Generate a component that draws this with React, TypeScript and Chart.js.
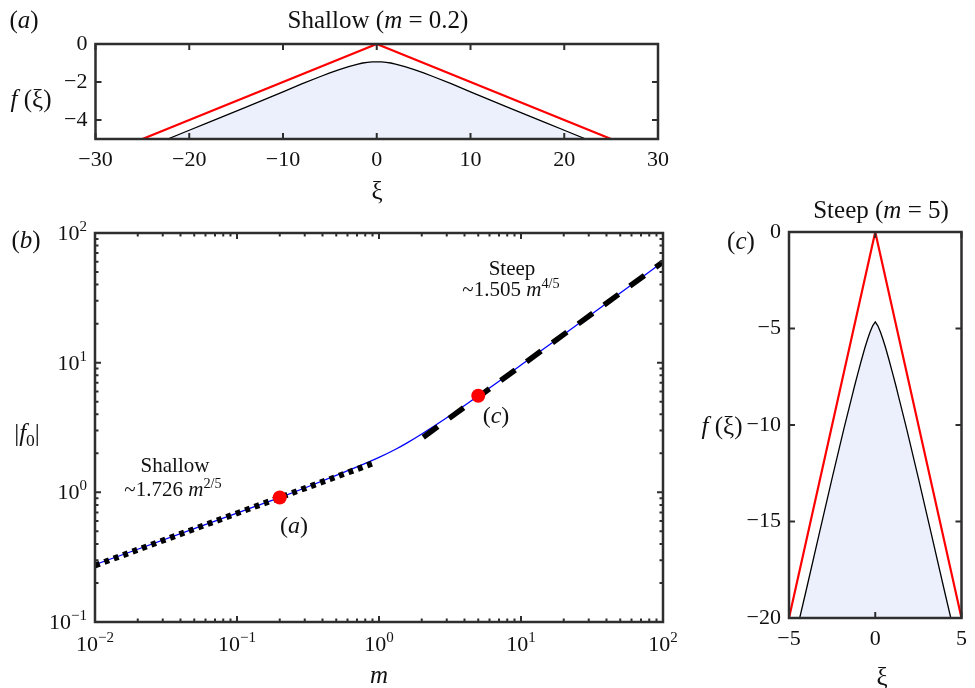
import React, { useEffect, useRef } from 'react';
import { Chart, registerables } from 'chart.js';
Chart.register(...registerables);

const FONT = '"Liberation Serif", "Times New Roman", serif';
const FRAME = '#2e2e2e';
const FILL = '#ebf0fc';

// ---------- Panel (a): shallow, m = 0.2 ----------
const aXi = [-22.3, -20, -18, -14, -10, -8, -6, -5, -4, -3, -2, -1.5, -1, -0.5, 0, 0.5, 1, 1.5, 2, 3, 4, 5, 6, 8, 10, 14, 18, 20, 22.3];
const aBody = [-5.0, -4.54, -4.14, -3.34, -2.52, -2.1, -1.71, -1.52, -1.35, -1.19, -1.06, -1.0, -0.97, -0.945, -0.94, -0.945, -0.97, -1.0, -1.06, -1.19, -1.35, -1.52, -1.71, -2.1, -2.52, -3.34, -4.14, -4.54, -5.0];
const aWedgeXi = [-25, 0, 25];
const aWedgeF = [-5, 0, -5];
const aXTicks = [-30, -20, -10, 0, 10, 20, 30];
const aYTicks = [-4, -2, 0];

// ---------- Panel (b): |f0| vs m ----------
const bM = [0.01, 0.02, 0.05, 0.1, 0.2, 0.3, 0.5, 0.7, 1, 1.3, 1.6, 2, 3, 5, 7, 10, 20, 50, 100];
const bF0 = [0.277, 0.364, 0.524, 0.692, 0.912, 1.08, 1.35, 1.57, 1.86, 2.14, 2.43, 2.82, 3.76, 5.55, 7.2, 9.6, 16.5, 34.4, 60];
const shallowM = [0.01, 0.9];
const shallowF = [0.273, 1.67];
const steepM = [2.05, 100];
const steepF = [2.66, 59.9];
const dotM = [0.2, 5];
const dotF = [0.912, 5.55];
const bXMajor = [0.01, 0.1, 1, 10, 100];
const bXExp = ['\u22122', '\u22121', '0', '1', '2'];
const bYMajor = [0.1, 1, 10, 100];
const bYExp = ['\u22121', '0', '1', '2'];
const minorMult = [2, 3, 4, 5, 6, 7, 8, 9];

// ---------- Panel (c): steep, m = 5 ----------
const cXi = [-4.38, -4, -3.2, -2.5, -1.82, -1.4, -1.2, -1, -0.8, -0.6, -0.45, -0.3, -0.15, 0, 0.15, 0.3, 0.45, 0.6, 0.8, 1, 1.2, 1.4, 1.82, 2.5, 3.2, 4, 4.38];
const cBody = [-20, -18.55, -15.45, -12.75, -10.2, -8.7, -7.98, -7.3, -6.63, -6.0, -5.57, -5.18, -4.86, -4.66, -4.86, -5.18, -5.57, -6.0, -6.63, -7.3, -7.98, -8.7, -10.2, -12.75, -15.45, -18.55, -20];
const cWedgeXi = [-5, 0, 5];
const cWedgeF = [-20, 0, -20];
const cXTicks = [-5, 0, 5];
const cYTicks = [-20, -15, -10, -5, 0];

const pts = (xs: number[], ys: number[]) => xs.map((x, i) => ({ x, y: ys[i] }));
const fmt = (v: number) => (v < 0 ? '\u2212' + Math.abs(v) : String(v));
const minorsOf = (majors: number[]) => {
  const out: number[] = [];
  for (let i = 0; i < majors.length - 1; i++) minorMult.forEach((k) => out.push(majors[i] * k));
  return out;
};

const boxPlugin = {
  id: 'boxTicks',
  afterDraw(chart: any, _a: any, opts: any) {
    const { ctx, chartArea: a, scales } = chart;
    const xs = scales.x, ys = scales.y;
    ctx.save();
    ctx.strokeStyle = FRAME;
    ctx.lineWidth = 2;
    const drawX = (vals: number[], len: number) => {
      vals.forEach((v) => {
        const px = xs.getPixelForValue(v);
        ctx.beginPath();
        ctx.moveTo(px, a.bottom); ctx.lineTo(px, a.bottom - len);
        ctx.moveTo(px, a.top); ctx.lineTo(px, a.top + len);
        ctx.stroke();
      });
    };
    const drawY = (vals: number[], len: number) => {
      vals.forEach((v) => {
        const py = ys.getPixelForValue(v);
        ctx.beginPath();
        ctx.moveTo(a.left, py); ctx.lineTo(a.left + len, py);
        ctx.moveTo(a.right, py); ctx.lineTo(a.right - len, py);
        ctx.stroke();
      });
    };
    drawX(opts.xMajor || [], 6);
    drawY(opts.yMajor || [], 6);
    drawX(opts.xMinor || [], 3.5);
    drawY(opts.yMinor || [], 3.5);
    ctx.lineWidth = 2.5;
    ctx.strokeRect(a.left, a.top, a.right - a.left, a.bottom - a.top);
    if (opts.logLabels) {
      ctx.fillStyle = '#111';
      ctx.textBaseline = 'alphabetic';
      ctx.textAlign = 'left';
      const pow = (exp: string, x: number, y: number, right: boolean) => {
        ctx.font = `22px ${FONT}`;
        const wb = ctx.measureText('10').width;
        ctx.font = `15px ${FONT}`;
        const we = ctx.measureText(exp).width;
        const x0 = right ? x - wb - we : x - (wb + we) / 2;
        ctx.font = `22px ${FONT}`;
        ctx.fillText('10', x0, y);
        ctx.font = `15px ${FONT}`;
        ctx.fillText(exp, x0 + wb, y - 9);
      };
      bXMajor.forEach((v, i) => pow(bXExp[i], xs.getPixelForValue(v), a.bottom + 29, false));
      bYMajor.forEach((v, i) => pow(bYExp[i], a.left - 8, ys.getPixelForValue(v) + 7, true));
    }
    ctx.restore();
  },
};

const tickFont = { family: FONT, size: 22 };

function linearCfg(p: {
  datasets: any[]; xMin: number; xMax: number; yMin: number; yMax: number;
  xTicks: number[]; yTicks: number[]; yAxisW: number; xAxisH: number; padTop: number; padRight: number;
}) {
  return {
    type: 'scatter',
    data: { datasets: p.datasets },
    plugins: [boxPlugin],
    options: {
      animation: false,
      responsive: false,
      devicePixelRatio: 1,
      layout: { padding: { top: p.padTop, right: p.padRight, left: 0, bottom: 0 }, autoPadding: false },
      plugins: {
        legend: { display: false },
        tooltip: { enabled: false },
        boxTicks: { xMajor: p.xTicks, yMajor: p.yTicks },
      },
      scales: {
        x: {
          type: 'linear', min: p.xMin, max: p.xMax,
          grid: { display: false, drawTicks: false }, border: { display: false },
          afterBuildTicks: (s: any) => { s.ticks = p.xTicks.map((v) => ({ value: v })); },
          afterFit: (s: any) => { s.height = p.xAxisH; },
          ticks: { font: tickFont, color: '#111', padding: 8, maxRotation: 0, autoSkip: false, callback: (v: any) => fmt(Number(v)) },
        },
        y: {
          type: 'linear', min: p.yMin, max: p.yMax,
          grid: { display: false, drawTicks: false }, border: { display: false },
          afterBuildTicks: (s: any) => { s.ticks = p.yTicks.map((v) => ({ value: v })); },
          afterFit: (s: any) => { s.width = p.yAxisW; },
          ticks: { font: tickFont, color: '#111', padding: 8, autoSkip: false, callback: (v: any) => fmt(Number(v)) },
        },
      },
    },
  } as any;
}

function cfgA() {
  return linearCfg({
    datasets: [
      { data: pts(aWedgeXi, aWedgeF), showLine: true, borderColor: '#ff0000', borderWidth: 2.2, pointRadius: 0 },
      { data: pts(aXi, aBody), showLine: true, borderColor: '#000', borderWidth: 1.3, pointRadius: 0, tension: 0, fill: { value: -5 }, backgroundColor: FILL },
    ],
    xMin: -30, xMax: 30, yMin: -5, yMax: 0, xTicks: aXTicks, yTicks: aYTicks,
    yAxisW: 95.5, xAxisH: 41, padTop: 44, padRight: 32,
  });
}

function cfgC() {
  return linearCfg({
    datasets: [
      { data: pts(cWedgeXi, cWedgeF), showLine: true, borderColor: '#ff0000', borderWidth: 2.2, pointRadius: 0 },
      { data: pts(cXi, cBody), showLine: true, borderColor: '#000', borderWidth: 1.3, pointRadius: 0, tension: 0, fill: { value: -20 }, backgroundColor: FILL },
    ],
    xMin: -5, xMax: 5, yMin: -20, yMax: 0, xTicks: cXTicks, yTicks: cYTicks,
    yAxisW: 89, xAxisH: 70, padTop: 42, padRight: 3,
  });
}

function cfgB() {
  return {
    type: 'scatter',
    data: {
      datasets: [
        { data: pts(dotM, dotF), showLine: false, pointRadius: 7, pointBackgroundColor: '#ff0000', pointBorderWidth: 0, borderColor: '#ff0000' },
        { data: pts(steepM, steepF), showLine: true, borderColor: '#000', borderWidth: 5.5, borderDash: [18, 14], borderCapStyle: 'butt', pointRadius: 0 },
        { data: pts(shallowM, shallowF), showLine: true, borderColor: '#000', borderWidth: 6, borderDash: [5, 5], borderCapStyle: 'butt', pointRadius: 0 },
        { data: pts(bM, bF0), showLine: true, borderColor: '#0000ff', borderWidth: 1.3, pointRadius: 0, cubicInterpolationMode: 'monotone' },
      ],
    },
    plugins: [boxPlugin],
    options: {
      animation: false,
      responsive: false,
      devicePixelRatio: 1,
      layout: { padding: { top: 43, right: 27, left: 0, bottom: 0 }, autoPadding: false },
      plugins: {
        legend: { display: false },
        tooltip: { enabled: false },
        boxTicks: { xMajor: bXMajor, yMajor: bYMajor, xMinor: minorsOf(bXMajor), yMinor: minorsOf(bYMajor), logLabels: true },
      },
      scales: {
        x: {
          type: 'logarithmic', min: 0.01, max: 100,
          grid: { display: false, drawTicks: false }, border: { display: false },
          ticks: { display: false },
          afterFit: (s: any) => { s.height = 66; },
        },
        y: {
          type: 'logarithmic', min: 0.1, max: 100,
          grid: { display: false, drawTicks: false }, border: { display: false },
          ticks: { display: false },
          afterFit: (s: any) => { s.width = 95; },
        },
      },
    },
  } as any;
}

const T = ({ x, y, size = 22, children }: { x: number; y: number; size?: number; children: any }) => (
  <span style={{ position: 'absolute', left: x, top: y, transform: 'translate(-50%, -50%)', fontSize: size, lineHeight: 1, whiteSpace: 'nowrap' }}>{children}</span>
);
const Sup = ({ children }: { children: any }) => (
  <span style={{ fontSize: '0.68em', position: 'relative', top: '-0.55em' }}>{children}</span>
);
const Sub = ({ children }: { children: any }) => (
  <span style={{ fontSize: '0.7em', position: 'relative', top: '0.3em' }}>{children}</span>
);

export default function App() {
  const aRef = useRef<HTMLCanvasElement>(null);
  const bRef = useRef<HTMLCanvasElement>(null);
  const cRef = useRef<HTMLCanvasElement>(null);
  useEffect(() => {
    const charts = [
      new Chart(aRef.current as HTMLCanvasElement, cfgA()),
      new Chart(bRef.current as HTMLCanvasElement, cfgB()),
      new Chart(cRef.current as HTMLCanvasElement, cfgC()),
    ];
    return () => charts.forEach((c) => c.destroy());
  }, []);
  return (
    <div style={{ position: 'absolute', left: 0, top: 0, width: 975, height: 688, overflow: 'hidden', background: '#fff', fontFamily: FONT, color: '#111' }}>
      <canvas ref={aRef} width={690} height={180} style={{ position: 'absolute', left: 0, top: 0 }} />
      <canvas ref={bRef} width={690} height={498} style={{ position: 'absolute', left: 0, top: 190 }} />
      <canvas ref={cRef} width={275} height={498} style={{ position: 'absolute', left: 700, top: 190 }} />

      {/* panel (a) */}
      <T x={24} y={19} size={25}>(<i>a</i>)</T>
      <T x={378} y={19} size={25}>Shallow (<i>m</i> = 0.2)</T>
      <T x={31} y={98} size={25}><i>f</i> (ξ)</T>
      <T x={377} y={190} size={25}>ξ</T>

      {/* panel (b) */}
      <T x={26} y={239} size={25}>(<i>b</i>)</T>
      <T x={27} y={432} size={25}>|<i>f</i><Sub>0</Sub>|</T>
      <T x={379} y={674} size={25}><i>m</i></T>
      <T x={512} y={268} size={21}>Steep</T>
      <T x={511} y={289} size={21}>~1.505 <i>m</i><Sup>4/5</Sup></T>
      <T x={175} y={465} size={21}>Shallow</T>
      <T x={173} y={489} size={21}>~1.726 <i>m</i><Sup>2/5</Sup></T>
      <T x={294} y={525} size={24}>(<i>a</i>)</T>
      <T x={496} y={415} size={24}>(<i>c</i>)</T>

      {/* panel (c) */}
      <T x={881} y={209} size={25}>Steep (<i>m</i> = 5)</T>
      <T x={741} y={240} size={25}>(<i>c</i>)</T>
      <T x={722} y={425} size={25}><i>f</i> (ξ)</T>
      <T x={882} y={676} size={25}>ξ</T>
    </div>
  );
}
